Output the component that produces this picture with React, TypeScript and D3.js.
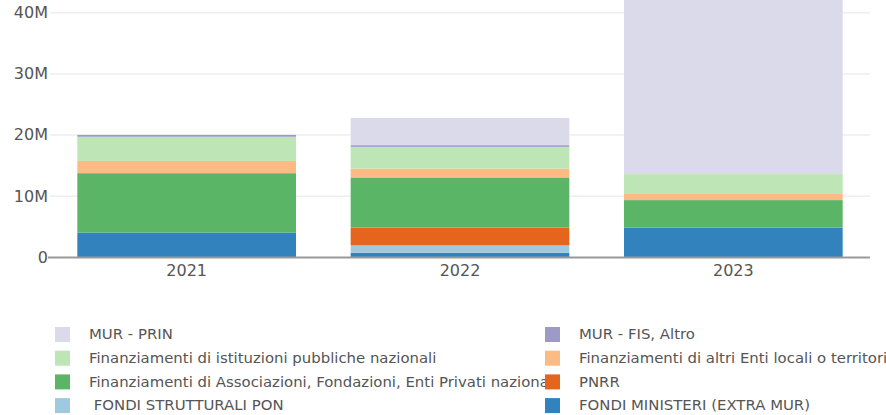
import React, { useEffect, useRef } from "react";
import * as d3 from "d3";

const years = ["2021", "2022", "2023"];

const seriesNames = [
  "FONDI MINISTERI (EXTRA MUR)",
  " FONDI STRUTTURALI PON",
  "PNRR",
  "Finanziamenti di Associazioni, Fondazioni, Enti Privati nazionali",
  "Finanziamenti di altri Enti locali o territoriali",
  "Finanziamenti di istituzioni pubbliche nazionali",
  "MUR - FIS, Altro",
  "MUR - PRIN",
];

// values in millions, one per year
const fondiMinisteri = [4.0, 0.7, 4.8];
const fondiPon = [0, 1.2, 0];
const pnrr = [0, 2.9, 0];
const associazioni = [9.7, 8.2, 4.5];
const entiLocali = [2.0, 1.45, 1.0];
const istituzioni = [3.95, 3.55, 3.25];
const murFis = [0.3, 0.28, 0];
const murPrin = [0, 4.45, 32];

const colors = ["#3182bd", "#9ecae1", "#e6651d", "#5ab567", "#fdbb84", "#bde5b5", "#9e9ac8", "#dadaeb"];

// legend order (two columns, row by row)
const legendOrder = [7, 6, 5, 4, 3, 2, 1, 0];

const yTicks = [0, 10, 20, 30, 40];

export default function App() {
  const ref = useRef<SVGSVGElement>(null);

  useEffect(() => {
    const svg = d3.select(ref.current);
    svg.selectAll("*").remove();

    const W = 886, H = 415;
    const left = 50, right = 870, top = 0, bottom = 257;

    const allSeries = [fondiMinisteri, fondiPon, pnrr, associazioni, entiLocali, istituzioni, murFis, murPrin];
    const rows = years.map((yr, i) => {
      const r: any = { year: yr };
      allSeries.forEach((s, k) => (r[k] = s[i]));
      return r;
    });
    const stack = d3.stack<any>().keys(allSeries.map((_, k) => String(k)))(rows);

    const x = d3.scaleBand().domain(years).range([left, right]).paddingInner(0.2).paddingOuter(0.1);
    const y = d3.scaleLinear().domain([0, 42]).range([bottom, top]);

    svg.append("defs").append("clipPath").attr("id", "plot")
      .append("rect").attr("x", left).attr("y", top).attr("width", right - left).attr("height", bottom - top);
    svg.select("defs").append("clipPath").attr("id", "col1")
      .append("rect").attr("x", 0).attr("y", 300).attr("width", 545).attr("height", 115);

    // grid
    svg.append("g").selectAll("line").data(yTicks.filter((t) => t > 0)).enter().append("line")
      .attr("x1", left).attr("x2", right)
      .attr("y1", (d) => y(d) + 0.5).attr("y2", (d) => y(d) + 0.5)
      .attr("stroke", "#eeeeee").attr("stroke-width", 1.5);

    // bars
    const g = svg.append("g").attr("clip-path", "url(#plot)");
    stack.forEach((layer, k) => {
      g.append("g").attr("fill", colors[k]).selectAll("rect").data(layer).enter().append("rect")
        .attr("x", (d: any) => x(d.data.year)!)
        .attr("width", x.bandwidth())
        .attr("y", (d) => y(d[1]))
        .attr("height", (d) => Math.max(0, y(d[0]) - y(d[1])));
    });

    // baseline
    svg.append("line").attr("x1", left - 2).attr("x2", right).attr("y1", bottom + 0.5).attr("y2", bottom + 0.5)
      .attr("stroke", "#999999").attr("stroke-width", 2);

    // y labels
    svg.append("g").selectAll("text").data(yTicks).enter().append("text")
      .attr("x", left - 2).attr("y", (d) => y(d)).attr("dy", "0.36em")
      .attr("text-anchor", "end")
      .style("font-family", "'DejaVu Sans', Verdana, sans-serif").style("font-size", "16px")
      .attr("fill", "#555555")
      .text((d) => (d === 0 ? "0" : d + "M"));

    // x labels
    svg.append("g").selectAll("text").data(years).enter().append("text")
      .attr("x", (d) => x(d)! + x.bandwidth() / 2).attr("y", 276)
      .attr("text-anchor", "middle")
      .style("font-family", "'DejaVu Sans', Verdana, sans-serif").style("font-size", "16px")
      .attr("fill", "#555555")
      .text((d) => d);

    // legend
    const leg = svg.append("g");
    legendOrder.forEach((k, i) => {
      const col = i % 2, row = Math.floor(i / 2);
      const sx = col === 0 ? 55 : 545;
      const cy = 334 + row * 23.7;
      const item = leg.append("g").attr("clip-path", col === 0 ? "url(#col1)" : null);
      item.append("text")
        .attr("x", sx + 34).attr("y", cy).attr("dy", "0.35em")
        .attr("xml:space", "preserve").style("white-space", "pre")
        .style("font-family", "'DejaVu Sans', sans-serif").style("font-size", "14.9px")
        .attr("fill", "#555555")
        .text(seriesNames[k]);
      leg.append("rect").attr("x", sx).attr("y", cy - 7).attr("width", 15).attr("height", 15)
        .attr("fill", colors[k]);
    });

    svg.attr("width", W).attr("height", H);
  }, []);

  return (
    <svg ref={ref} width={886} height={415}
      style={{ position: "absolute", left: 0, top: 0, background: "#fff" }} />
  );
}
